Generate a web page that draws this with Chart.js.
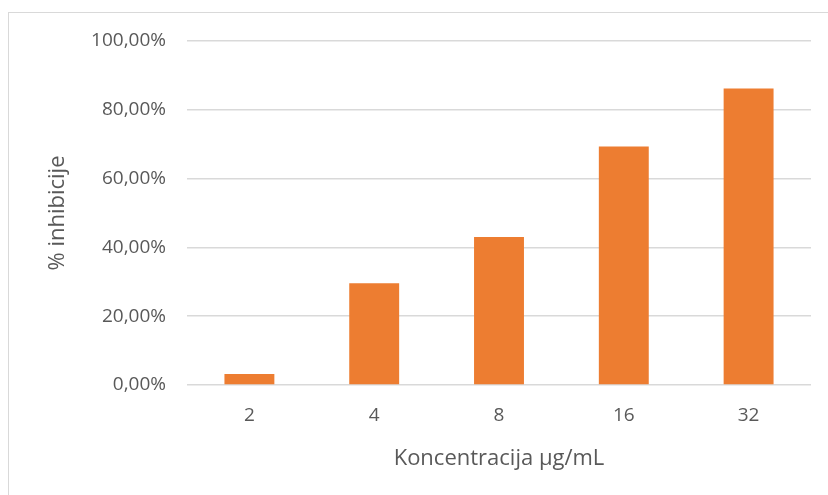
<!DOCTYPE html>
<html>
<head>
<meta charset="utf-8">
<script src="https://cdn.jsdelivr.net/npm/chart.js@4"></script>
<style>
  html, body { margin: 0; padding: 0; background: #fff; }
  #wrap { position: relative; width: 828px; height: 495px; overflow: hidden; }
  #frame { position: absolute; left: 8px; top: 12px; width: 900px; height: 600px;
           border-left: 1.5px solid #d9d9d9; border-top: 1.5px solid #d9d9d9; }
  canvas { position: absolute; left: 0; top: 0; }
</style>
</head>
<body>
<div id="wrap">
  <div id="frame"></div>
  <canvas id="myBarChart" width="828" height="495"></canvas>
</div>
<script>
// data
const categories = ["2", "4", "8", "16", "32"];
const inhibition = [3.2, 29.6, 43.0, 69.3, 86.2];
const yTicks = [0, 20, 40, 60, 80, 100];

const textColor = "#595959";
const fontFamily = "'Open Sans', sans-serif";

new Chart(document.getElementById("myBarChart").getContext("2d"), {
  type: "bar",
  data: {
    labels: categories,
    datasets: [
      {
        backgroundColor: "#ED7D31",
        data: inhibition,
        categoryPercentage: 1,
        barPercentage: 0.4,
      },
    ],
  },
  options: {
    responsive: false,
    animation: false,
    layout: { padding: { left: 0, right: 17, top: 41, bottom: 0 } },
    plugins: {
      legend: { display: false },
      tooltip: { enabled: false },
    },
    scales: {
      x: {
        grid: { display: false },
        border: { display: false },
        ticks: {
          color: textColor,
          font: { family: fontFamily, size: 19 },
          padding: 11,
        },
        title: {
          display: true,
          text: "Koncentracija µg/mL",
          color: textColor,
          font: { family: fontFamily, size: 22 },
          padding: { bottom: 23 },
        },
        afterFit: (scale) => {
          scale.height = 110;
        },
      },
      y: {
        min: 0,
        max: 100,
        afterBuildTicks: (scale) => {
          scale.ticks = yTicks.map((v) => ({ value: v }));
        },
        grid: { color: "#d9d9d9", lineWidth: 1.5, drawTicks: false },
        border: { display: false },
        ticks: {
          color: textColor,
          font: { family: fontFamily, size: 19 },
          padding: 21,
          callback: (v) => v.toFixed(2).replace(".", ",") + "%",
        },
        title: {
          display: true,
          text: "% inhibicije",
          color: textColor,
          font: { family: fontFamily, size: 22 },
          padding: { top: 45 },
        },
        afterFit: (scale) => {
          scale.width = 187;
        },
      },
    },
  },
});
</script>
</body>
</html>
